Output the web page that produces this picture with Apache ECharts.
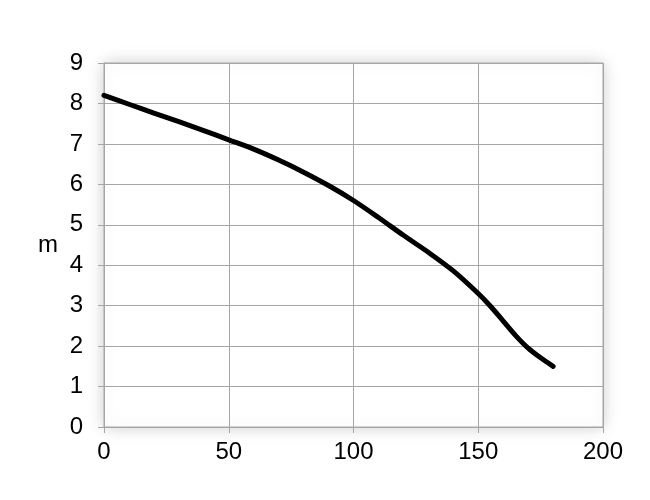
<!DOCTYPE html>
<html>
<head>
<meta charset="utf-8">
<script src="https://cdn.jsdelivr.net/npm/echarts@6/dist/echarts.min.js"></script>
<style>
html,body{margin:0;padding:0;background:#fff;}
#chart{width:650px;height:500px;}
</style>
</head>
<body>
<div id="chart"></div>
<script>
const flowValues = [0, 10, 20, 30, 40, 50, 60, 70, 80, 90, 100, 110, 120, 130, 140, 150, 155, 160, 165, 170, 175, 180];
const headValues = [8.2, 7.98, 7.76, 7.55, 7.33, 7.1, 6.87, 6.6, 6.3, 5.97, 5.6, 5.18, 4.74, 4.32, 3.86, 3.3, 2.98, 2.62, 2.26, 1.95, 1.71, 1.5];
const yAxisName = 'm';

const chart = echarts.init(document.getElementById('chart'));
const font = '"Liberation Sans", Arial, sans-serif';
chart.setOption({
  animation: false,
  grid: {
    left: 104, right: 47, top: 63, bottom: 73,
    show: true,
    backgroundColor: '#fff',
    borderColor: '#a6a6a6',
    borderWidth: 1,
    shadowBlur: 16,
    shadowColor: 'rgba(0,0,0,0.2)'
  },
  xAxis: {
    type: 'value',
    min: 0, max: 200, interval: 50,
    axisLine: { show: true, lineStyle: { color: '#a6a6a6', width: 1 } },
    axisTick: { show: true, length: 6, lineStyle: { color: '#a6a6a6' } },
    axisLabel: { color: '#000', fontSize: 24, fontFamily: font, margin: 13 },
    splitLine: { show: true, lineStyle: { color: '#a6a6a6', width: 1 } }
  },
  yAxis: {
    type: 'value',
    min: 0, max: 9, interval: 1,
    name: yAxisName,
    nameLocation: 'middle',
    nameRotate: 0,
    nameGap: 46,
    nameTextStyle: { color: '#000', fontSize: 24, fontFamily: font, padding: [8, 0, 0, 0] },
    axisLine: { show: true, lineStyle: { color: '#a6a6a6', width: 1 } },
    axisTick: { show: true, length: 6, lineStyle: { color: '#a6a6a6' } },
    axisLabel: { color: '#000', fontSize: 24, fontFamily: font, margin: 21 },
    splitLine: { show: true, lineStyle: { color: '#a6a6a6', width: 1 } }
  },
  series: [{
    type: 'line',
    data: flowValues.map((x, i) => [x, headValues[i]]),
    smooth: 0.3,
    showSymbol: false,
    lineStyle: { color: '#000', width: 5, cap: 'round' }
  }]
});
</script>
</body>
</html>
